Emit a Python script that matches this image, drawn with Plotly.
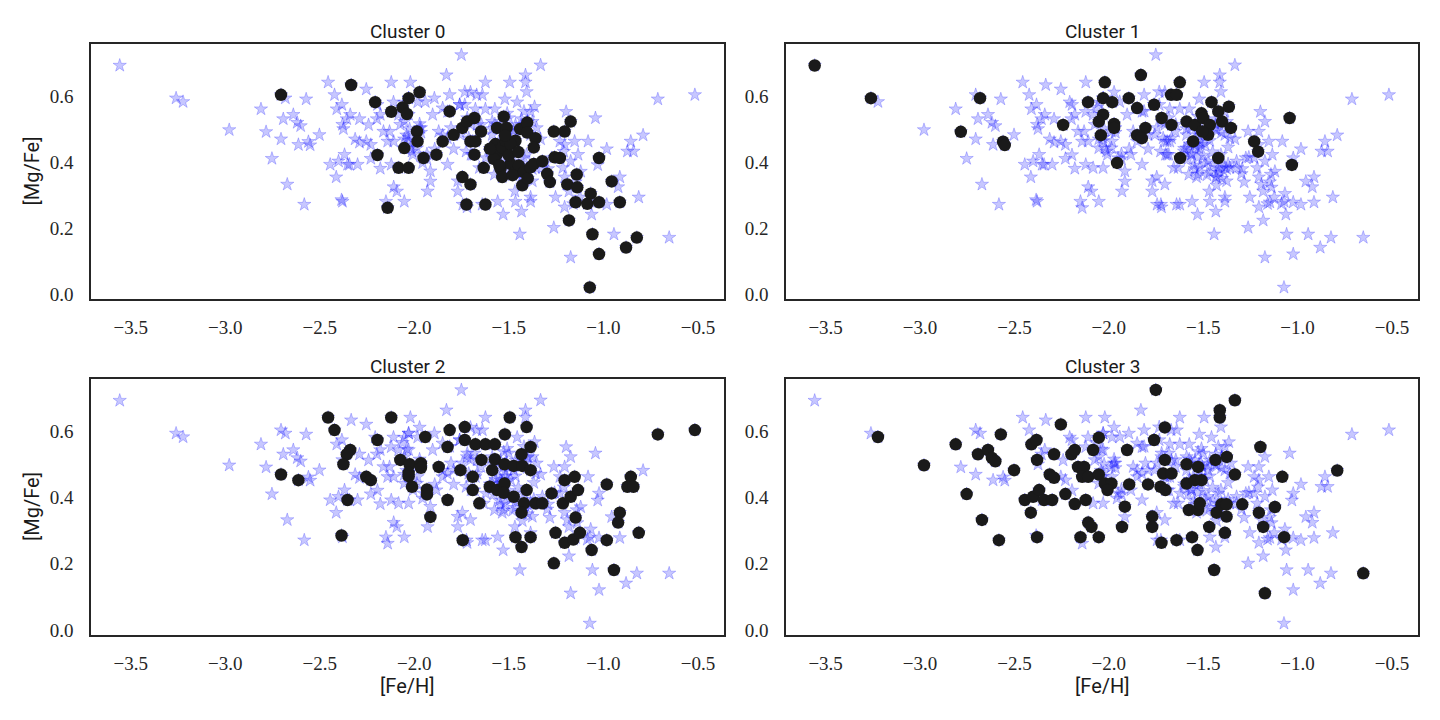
import plotly.graph_objects as go

# cluster members, [Fe/H] and [Mg/Fe]
c0_feh = [-2.705, -2.334, -2.207, -2.122, -2.062, -2.039, -2.030, -2.053, -2.195, -2.083, -2.030, -2.141,
          -1.972, -1.986, -1.983, -1.951, -1.883, -1.850, -1.813, -1.792, -1.746, -1.721, -1.682, -1.647,
          -1.703, -1.677, -1.682, -1.633, -1.746, -1.703, -1.724, -1.624,
          -1.562, -1.527, -1.512, -1.571, -1.562, -1.535, -1.518, -1.580, -1.544, -1.535, -1.491, -1.465,
          -1.447, -1.429, -1.420, -1.465, -1.491, -1.600, -1.500, -1.450, -1.550, -1.480, -1.400, -1.520, -1.440,
          -1.403, -1.403, -1.359, -1.368, -1.385, -1.368, -1.323, -1.297, -1.283, -1.262, -1.205, -1.173,
          -1.258, -1.230, -1.141, -1.191, -1.138, -1.147, -1.085, -1.067, -1.023, -1.182, -1.058, -1.023,
          -1.072, -1.023, -0.956, -0.913, -0.880, -0.823]
c0_mgfe = [0.603, 0.633, 0.581, 0.552, 0.565, 0.545, 0.593, 0.442, 0.421, 0.382, 0.382, 0.261,
           0.611, 0.492, 0.462, 0.412, 0.422, 0.462, 0.553, 0.482, 0.503, 0.522, 0.533, 0.492,
           0.462, 0.462, 0.422, 0.382, 0.354, 0.332, 0.271, 0.271,
           0.503, 0.537, 0.503, 0.454, 0.424, 0.444, 0.464, 0.409, 0.379, 0.354, 0.394, 0.369,
           0.389, 0.329, 0.369, 0.464, 0.454, 0.440, 0.420, 0.430, 0.390, 0.360, 0.350, 0.480, 0.500,
           0.519, 0.489, 0.472, 0.444, 0.384, 0.394, 0.402, 0.364, 0.339, 0.492, 0.492, 0.522,
           0.414, 0.412, 0.362, 0.332, 0.323, 0.278, 0.273, 0.304, 0.278, 0.223, 0.181, 0.121,
           0.020, 0.412, 0.341, 0.278, 0.141, 0.171]

c1_feh = [-3.558, -3.260, -2.682, -2.784, -2.560, -2.551, -2.242, -2.110,
          -2.021, -1.830, -1.624, -2.030, -1.982, -1.894, -1.850, -1.760, -1.670, -1.640,
          -2.030, -2.053, -1.972, -1.972, -2.042, -1.806, -1.850, -1.825, -1.720, -1.668,
          -1.956, -1.622, -1.588, -1.553, -1.544, -1.509, -1.500, -1.456, -1.420, -1.364,
          -1.465, -1.474, -1.505, -1.400, -1.353, -1.420, -1.230, -1.209, -1.042, -1.030]
c1_mgfe = [0.692, 0.593, 0.593, 0.491, 0.461, 0.451, 0.512, 0.581,
           0.641, 0.663, 0.641, 0.593, 0.581, 0.593, 0.563, 0.573, 0.603, 0.603,
           0.543, 0.522, 0.515, 0.503, 0.481, 0.503, 0.481, 0.472, 0.533, 0.512,
           0.397, 0.412, 0.522, 0.462, 0.512, 0.547, 0.533, 0.581, 0.553, 0.567,
           0.512, 0.482, 0.492, 0.522, 0.503, 0.412, 0.462, 0.431, 0.533, 0.391]

c2_feh = [-2.456, -2.122, -2.422, -2.195, -2.339, -2.357, -2.375, -2.074, -2.705, -2.613,
          -2.254, -2.230, -2.353, -2.385,
          -1.942, -1.813, -1.733, -1.733, -1.824, -1.677, -1.624, -1.574, -1.495, -1.406,
          -1.521, -1.385, -1.433, -2.025, -2.030, -2.030, -2.012, -1.965, -1.965, -1.871,
          -1.933, -1.933, -1.915, -1.824, -1.756, -1.691, -1.691, -1.645, -1.656, -1.744,
          -1.588, -1.574, -1.523, -1.474, -1.429, -1.385, -1.601, -1.562, -1.523, -1.527,
          -1.474, -1.406, -1.420, -1.433, -1.359, -1.323, -1.274, -1.214, -1.205, -1.152,
          -1.173, -1.134, -1.147, -1.465, -1.385, -1.433, -1.253, -1.205, -1.159, -1.124,
          -1.262, -1.062, -0.982, -0.944, -0.982, -0.913, -0.922, -0.855, -0.873, -0.841,
          -0.813, -0.712, -0.516]
c2_mgfe = [0.641, 0.641, 0.603, 0.573, 0.543, 0.530, 0.500, 0.513, 0.469, 0.452,
           0.462, 0.452, 0.392, 0.285,
           0.582, 0.603, 0.612, 0.573, 0.552, 0.560, 0.560, 0.560, 0.641, 0.612,
           0.590, 0.552, 0.530, 0.500, 0.474, 0.464, 0.432, 0.503, 0.489, 0.492,
           0.424, 0.409, 0.341, 0.392, 0.482, 0.462, 0.422, 0.513, 0.382, 0.271,
           0.482, 0.515, 0.500, 0.495, 0.495, 0.482, 0.432, 0.422, 0.442, 0.414,
           0.402, 0.422, 0.382, 0.354, 0.382, 0.382, 0.412, 0.382, 0.452, 0.462,
           0.402, 0.422, 0.339, 0.280, 0.280, 0.250, 0.293, 0.263, 0.273, 0.293,
           0.201, 0.241, 0.271, 0.181, 0.439, 0.354, 0.324, 0.462, 0.432, 0.432,
           0.293, 0.590, 0.603]

c3_feh = [-3.223, -2.979, -2.811, -2.753, -2.693, -2.640, -2.619, -2.601, -2.572, -2.672,
          -2.582, -2.502, -2.410, -2.383, -2.380, -2.290, -2.254, -2.198, -2.180, -2.313,
          -2.290, -2.445, -2.401, -2.369, -2.343, -2.300, -2.413, -2.380, -2.230, -2.180,
          -2.163, -2.131, -2.141, -2.109, -2.122, -2.109, -2.092, -2.150, -2.053, -2.083,
          -2.053, -2.053,
          -1.751, -1.332, -1.412, -1.412, -1.703, -1.760, -1.903, -1.703, -1.588, -1.527,
          -1.435, -1.375, -1.197, -2.021, -1.986, -2.007, -1.892, -1.792, -1.712, -1.668,
          -1.726, -1.700, -1.588, -1.544, -1.509, -1.915, -1.770, -1.770, -1.930, -1.721,
          -1.641, -1.559, -1.530, -1.576, -1.527, -1.518, -1.468, -1.385, -1.429, -1.403,
          -1.376, -1.376, -1.332, -1.293, -1.205, -1.182, -1.120, -1.081, -1.071, -1.442,
          -1.173, -0.790, -0.652]
c3_mgfe = [0.582, 0.497, 0.560, 0.410, 0.530, 0.543, 0.519, 0.509, 0.590, 0.332,
           0.271, 0.482, 0.560, 0.573, 0.513, 0.530, 0.620, 0.530, 0.543, 0.469,
           0.459, 0.392, 0.402, 0.422, 0.392, 0.392, 0.354, 0.280, 0.410, 0.380,
           0.492, 0.492, 0.462, 0.462, 0.392, 0.324, 0.311, 0.280, 0.580, 0.543,
           0.469, 0.280,
           0.724, 0.693, 0.663, 0.641, 0.611, 0.573, 0.543, 0.513, 0.500, 0.492,
           0.513, 0.522, 0.552, 0.442, 0.442, 0.422, 0.439, 0.439, 0.472, 0.472,
           0.432, 0.422, 0.442, 0.452, 0.452, 0.372, 0.342, 0.311, 0.311, 0.263,
           0.271, 0.280, 0.241, 0.362, 0.362, 0.382, 0.311, 0.293, 0.354, 0.379,
           0.379, 0.342, 0.469, 0.379, 0.354, 0.311, 0.371, 0.462, 0.280, 0.181,
           0.111, 0.481, 0.171]

clusters = [(c0_feh, c0_mgfe), (c1_feh, c1_mgfe), (c2_feh, c2_mgfe), (c3_feh, c3_mgfe)]
titles = ["Cluster 0", "Cluster 1", "Cluster 2", "Cluster 3"]

all_feh = c0_feh + c1_feh + c2_feh + c3_feh
all_mgfe = c0_mgfe + c1_mgfe + c2_mgfe + c3_mgfe

# the page body adds an 8px margin, so the figure is a bit smaller
# and every position below is in screen pixels minus 8
W, H = 1432, 704
OFF = 8
# panel boxes in screen pixels: left, right, top, bottom
boxes = [(91, 724, 44, 299), (786, 1418, 44, 299),
         (91, 724, 379, 635), (786, 1418, 379, 635)]


def px(v):
    return (v - OFF) / W


def py(v):
    return 1 - (v - OFF) / H


fig = go.Figure()
axis_col = "#262626"
tick_font = dict(family="Liberation Serif", size=19, color=axis_col)
label_font = dict(family="Roboto", size=20, color="#1a1a1a")

for i, ((fx, fy), (l, r, t, b)) in enumerate(zip(clusters, boxes)):
    n = "" if i == 0 else str(i + 1)
    fig.add_trace(go.Scatter(
        x=all_feh, y=all_mgfe, mode="markers", xaxis="x" + n, yaxis="y" + n,
        marker=dict(symbol="star", size=10, color="rgba(0,0,255,0.22)",
                    line=dict(color="rgba(0,0,255,0.28)", width=0.8)),
        showlegend=False, hoverinfo="skip"))
    fig.add_trace(go.Scatter(
        x=fx, y=fy, mode="markers", xaxis="x" + n, yaxis="y" + n,
        marker=dict(symbol="circle", size=12.5, color="#1a1a1a"),
        showlegend=False))

    fig.layout["xaxis" + n] = dict(
        domain=[px(l), px(r)], anchor="y" + n, range=[-3.71, -0.362],
        tickvals=[-3.5, -3.0, -2.5, -2.0, -1.5, -1.0, -0.5], tickformat=".1f",
        showline=True, mirror=True, linecolor=axis_col, linewidth=1.5,
        showgrid=False, zeroline=False, ticks="", ticklabelstandoff=10,
        automargin=False, tickfont=tick_font)
    fig.layout["yaxis" + n] = dict(
        domain=[py(b), py(t)], anchor="x" + n, range=[-0.015, 0.757],
        tickvals=[0.0, 0.2, 0.4, 0.6], tickformat=".1f",
        showline=True, mirror=True, linecolor=axis_col, linewidth=1.5,
        showgrid=False, zeroline=False, ticks="", ticklabelstandoff=12,
        automargin=False, tickfont=tick_font)

    fig.add_annotation(text=titles[i], x=px((l + r) / 2), y=py(t - 13),
                       xref="paper", yref="paper", showarrow=False,
                       xanchor="center", yanchor="middle",
                       font=dict(family="Roboto", size=19, color="#1a1a1a"))
    if i % 2 == 0:
        fig.add_annotation(text="[Mg/Fe]", x=px(32), y=py((t + b) / 2),
                           xref="paper", yref="paper", showarrow=False, textangle=-90,
                           xanchor="center", yanchor="middle", font=label_font)
    if i >= 2:
        fig.add_annotation(text="[Fe/H]", x=px((l + r) / 2), y=py(686),
                           xref="paper", yref="paper", showarrow=False,
                           xanchor="center", yanchor="middle", font=label_font)

fig.update_layout(width=W, height=H, margin=dict(l=0, r=0, t=0, b=0),
                  paper_bgcolor="white", plot_bgcolor="white")

fig.write_html("out.html")
